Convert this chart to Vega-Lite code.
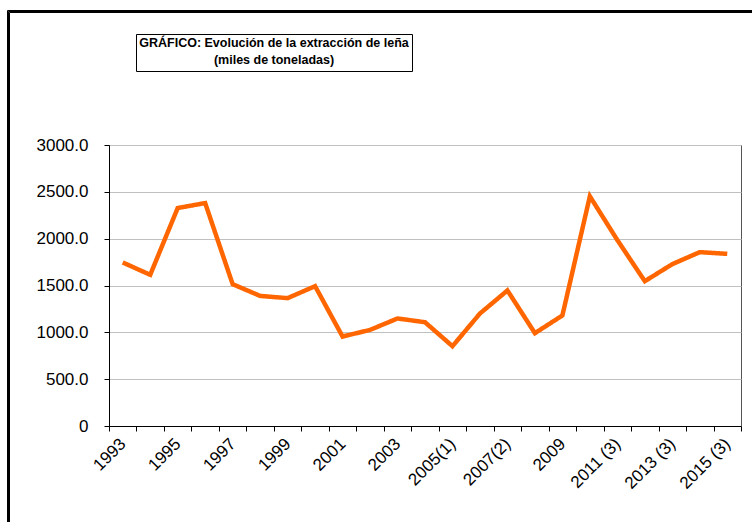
{
  "$schema": "https://vega.github.io/schema/vega-lite/v6.json",
  "autosize": "none",
  "width": 632,
  "height": 281,
  "padding": {"left": 109, "top": 145, "right": 11, "bottom": 96},
  "background": "white",
  "config": {
    "font": "Liberation Sans",
    "view": {"stroke": "#555555", "strokeWidth": 1}
  },
  "data": {
    "values": [
      {"periodo": "1993", "miles_t": 1746},
      {"periodo": "1994", "miles_t": 1614},
      {"periodo": "1995", "miles_t": 2327},
      {"periodo": "1996", "miles_t": 2380},
      {"periodo": "1997", "miles_t": 1514},
      {"periodo": "1998", "miles_t": 1389},
      {"periodo": "1999", "miles_t": 1365},
      {"periodo": "2000", "miles_t": 1493},
      {"periodo": "2001", "miles_t": 955},
      {"periodo": "2002", "miles_t": 1026},
      {"periodo": "2003", "miles_t": 1148},
      {"periodo": "2004", "miles_t": 1108},
      {"periodo": "2005(1)", "miles_t": 852},
      {"periodo": "2006", "miles_t": 1201},
      {"periodo": "2007(2)", "miles_t": 1447},
      {"periodo": "2008", "miles_t": 991},
      {"periodo": "2009", "miles_t": 1180},
      {"periodo": "2010", "miles_t": 2452},
      {"periodo": "2011 (3)", "miles_t": 1985},
      {"periodo": "2012 (3)", "miles_t": 1546},
      {"periodo": "2013 (3)", "miles_t": 1728},
      {"periodo": "2014 (3)", "miles_t": 1856},
      {"periodo": "2015 (3)", "miles_t": 1838}
    ]
  },
  "mark": {"type": "line", "strokeJoin": "miter", "strokeCap": "butt"},
  "encoding": {
    "x": {
      "field": "periodo",
      "type": "ordinal",
      "sort": null,
      "scale": {"paddingInner": 0, "paddingOuter": 0},
      "axis": {
        "title": null,
        "tickBand": "extent",
        "grid": false,
        "domainColor": "black",
        "tickColor": "black",
        "tickSize": 5,
        "labelAngle": -45,
        "labelAlign": "right",
        "labelBaseline": "middle",
        "labelPadding": 10,
        "labelFontSize": 17,
        "labelColor": "black",
        "labelOverlap": false,
        "labelExpr": "indexof(['1993','1995','1997','1999','2001','2003','2005(1)','2007(2)','2009','2011 (3)','2013 (3)','2015 (3)'], datum.label) >= 0 ? datum.label : ''"
      }
    },
    "y": {
      "field": "miles_t",
      "type": "quantitative",
      "scale": {"domain": [0, 3000], "nice": false, "zero": true},
      "axis": {
        "title": null,
        "values": [0, 500, 1000, 1500, 2000, 2500, 3000],
        "gridColor": "#c0c0c0",
        "domainColor": "black",
        "tickColor": "black",
        "tickSize": 5,
        "labelPadding": 16,
        "labelFontSize": 17,
        "labelColor": "black",
        "labelExpr": "datum.value == 0 ? '0' : format(datum.value, '.1f')"
      }
    },
    "color": {
      "datum": "serie",
      "type": "nominal",
      "scale": {"range": ["#FF6600"]},
      "legend": {
        "orient": "none",
        "legendX": 27,
        "legendY": -111,
        "title": ["GRÁFICO: Evolución de la extracción de leña", "(miles de toneladas)"],
        "titleFont": "Liberation Sans",
        "titleFontSize": 12.5,
        "titleFontWeight": "bold",
        "titleColor": "black",
        "titleLineHeight": 17,
        "titleAlign": "center",
        "titleAnchor": "middle",
        "titleLimit": 1000,
        "titlePadding": 0,
        "padding": 3,
        "strokeColor": "black",
        "fillColor": "white",
        "symbolOpacity": 0,
        "symbolSize": 1,
        "labelFontSize": 1,
        "labelExpr": "''"
      }
    },
    "opacity": {
      "datum": "marco1",
      "type": "ordinal",
      "scale": {"range": [1]},
      "legend": {
        "orient": "none",
        "legendX": -102,
        "legendY": -135,
        "title": null,
        "padding": 380,
        "strokeColor": "black",
        "fillColor": "rgba(0,0,0,0)",
        "symbolOpacity": 0,
        "symbolSize": 0,
        "symbolStrokeWidth": 0,
        "symbolStrokeColor": "rgba(0,0,0,0)",
        "symbolFillColor": "rgba(0,0,0,0)",
        "labelFontSize": 1,
        "labelExpr": "''"
      }
    },
    "strokeDash": {
      "datum": "marco2",
      "type": "nominal",
      "scale": {"range": [[1, 0]]},
      "legend": {
        "orient": "none",
        "legendX": -101,
        "legendY": -134,
        "title": null,
        "padding": 380,
        "strokeColor": "black",
        "fillColor": "rgba(0,0,0,0)",
        "symbolOpacity": 0,
        "symbolSize": 0,
        "symbolStrokeWidth": 0,
        "symbolStrokeColor": "rgba(0,0,0,0)",
        "symbolFillColor": "rgba(0,0,0,0)",
        "labelFontSize": 1,
        "labelExpr": "''"
      }
    },
    "strokeWidth": {
      "datum": "marco3",
      "type": "ordinal",
      "scale": {"type": "point", "range": [4.5, 4.5]},
      "legend": {
        "orient": "none",
        "legendX": -100,
        "legendY": -133,
        "title": null,
        "padding": 380,
        "strokeColor": "black",
        "fillColor": "rgba(0,0,0,0)",
        "symbolOpacity": 0,
        "symbolSize": 0,
        "symbolStrokeColor": "rgba(0,0,0,0)",
        "symbolFillColor": "rgba(0,0,0,0)",
        "labelFontSize": 1,
        "labelExpr": "''"
      }
    }
  }
}
